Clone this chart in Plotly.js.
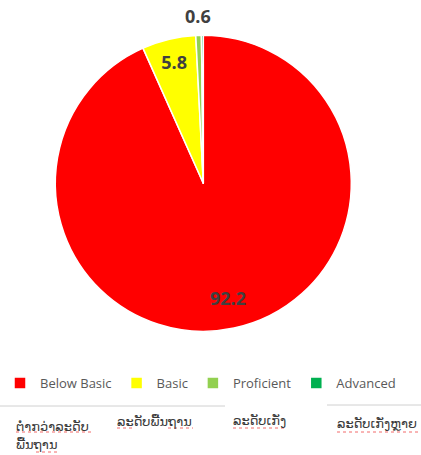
<!DOCTYPE html>
<html>
<head>
<meta charset="utf-8">
<script src="https://cdn.plot.ly/plotly-3.0.1.min.js"></script>
<style>html,body{margin:0;padding:0;background:#fff;}#chart{width:421px;height:455px;}</style>
</head>
<body>
<div id="chart"></div>
<script>
const categories = ["Below Basic", "Basic", "Proficient", "Advanced"];
const values = [92.2, 5.8, 0.6, 0.2];
const valueLabels = ["92.2", "5.8", "0.6", ""];
const laoLines = [["ຕໍ່າກວ່າລະດັບ", "ພື້ນຖານ"], ["ລະດັບພື້ນຖານ"], ["ລະດັບເກັ່ງ"], ["ລະດັບເກັ່ງຫຼາຍ"]];
const colors = ["#FF0000", "#FFFF00", "#92D050", "#00B050"];

const W = 421, H = 455;
const cx = 203.3, cy = 183.3, R = 148;
const labelFont = {family: "Open Sans, Liberation Sans, sans-serif", size: 18, color: "#404040", weight: "bold"};

const trace = {
  type: "pie",
  labels: categories,
  values: values,
  sort: false,
  direction: "clockwise",
  rotation: 0,
  marker: {colors: colors, line: {color: "#FFFFFF", width: 1.5}},
  text: valueLabels,
  textinfo: "text",
  textposition: ["none", "inside", "none", "none"],
  insidetextorientation: "horizontal",
  textfont: labelFont,
  insidetextfont: labelFont,
  domain: {x: [(cx - R) / W, (cx + R) / W], y: [1 - (cy + R) / H, 1 - (cy - R) / H]},
  hoverinfo: "label+value",
  showlegend: true
};

// value labels for the large and the tiny slice, placed on each slice's bisector
const total = values.reduce((a, b) => a + b, 0);
const radialFrac = {0: 0.79, 2: 1.13};
const annotations = [];
let cum = 0;
values.forEach((v, i) => {
  const mid = (cum + v / 2) / total * 2 * Math.PI;
  cum += v;
  if (radialFrac[i] !== undefined) {
    const rr = radialFrac[i] * R;
    annotations.push({
      text: valueLabels[i], xref: "paper", yref: "paper",
      x: (cx + rr * Math.sin(mid)) / W, y: 1 - (cy - rr * Math.cos(mid)) / H,
      xanchor: "center", yanchor: "middle", showarrow: false, font: labelFont
    });
  }
});

// Lao table texts below the legend
const laoX = [16, 117, 233, 337];
const laoTop = [[422, 440], [417], [416], [419]];
laoLines.forEach((lines, i) => {
  lines.forEach((t, j) => {
    annotations.push({
      text: t, xref: "paper", yref: "paper",
      x: (laoX[i] - 2) / W, y: 1 - (laoTop[i][j] + 4) / H,
      xanchor: "left", yanchor: "middle", align: "left", showarrow: false,
      font: {family: "DejaVu Sans, sans-serif", size: 13, color: "#3a3a3a"}
    });
  });
});

// spell-check squiggles and table rules
const squig = [[16, 93, 432], [36, 60, 452], [117, 133, 428], [168, 193, 428], [233, 285, 428], [337, 418, 432]];
const shapes = [
  {type: "line", xref: "paper", yref: "paper", x0: 0, x1: 225 / W, y0: 1 - 406 / H, y1: 1 - 406 / H, line: {color: "#D0D0D0", width: 1}},
  {type: "line", xref: "paper", yref: "paper", x0: 327 / W, x1: 1, y0: 1 - 405 / H, y1: 1 - 405 / H, line: {color: "#D0D0D0", width: 1}}
];
squig.forEach(s => {
  shapes.push({type: "line", xref: "paper", yref: "paper", x0: s[0] / W, x1: s[1] / W, y0: 1 - s[2] / H, y1: 1 - s[2] / H,
    line: {color: "#F26B6B", width: 1, dash: "dot"}});
});

const layout = {
  width: W, height: H,
  margin: {l: 0, r: 0, t: 0, b: 0},
  paper_bgcolor: "#FFFFFF",
  showlegend: true,
  legend: {
    orientation: "h", x: 0, xanchor: "left", y: 1 - 383 / H, yanchor: "middle",
    bgcolor: "rgba(0,0,0,0)",
    font: {family: "Open Sans, sans-serif", size: 13, color: "#595959"},
    traceorder: "normal"
  },
  annotations: annotations,
  shapes: shapes
};

Plotly.newPlot("chart", [trace], layout, {displayModeBar: false, staticPlot: true});
</script>
</body>
</html>
